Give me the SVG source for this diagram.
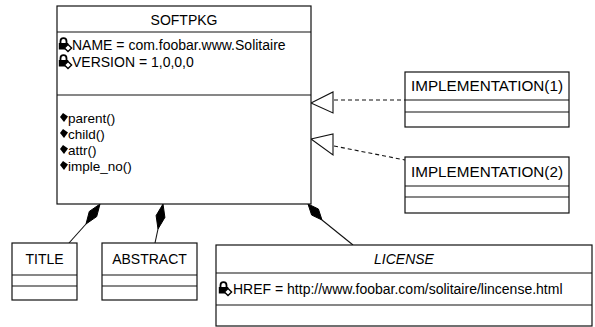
<svg xmlns="http://www.w3.org/2000/svg" width="595" height="327" viewBox="0 0 595 327">
<style>
.box{fill:#fff;stroke:#111;stroke-width:1.2}
.sep{stroke:#111;stroke-width:1.2}
.t{font-family:"Liberation Sans",Arial,sans-serif;font-size:14px;fill:#000}
.m{font-family:"Liberation Sans",Arial,sans-serif;font-size:13.5px;fill:#000}
.c{text-anchor:middle}
.dash{fill:none;stroke:#111;stroke-width:1.1;stroke-dasharray:4 3}
.ln{fill:none;stroke:#111;stroke-width:1.1}
.tri{fill:#fff;stroke:#111;stroke-width:1.1}
.dia{fill:#000;stroke:#000;stroke-width:1}
</style>
<defs>
<g id="lock">
<path d="M2.5,6.5 V4.2 A3,3 0 0 1 8.5,4.2 V6.5" fill="none" stroke="#000" stroke-width="1.8"/>
<rect x="0.8" y="6" width="9.4" height="6.5" fill="#000"/>
<polygon points="10,7.5 13.6,11 10,14.5 6.4,11" fill="#fff" stroke="#000" stroke-width="1.4"/>
</g>
<polygon id="op" points="3,0 8,3.5 4,9 0,4" fill="#000"/>
</defs>
<rect width="595" height="327" fill="#fff"/>

<g id="connectors">
<line class="dash" x1="334" y1="100" x2="405" y2="100"/>
<polygon class="tri" points="311,103 333,92 333,113"/>
<line class="dash" x1="334" y1="146" x2="405" y2="160"/>
<polygon class="tri" points="311,139 333,134 333,155"/>
<polygon class="dia" points="100,204 96.7,216.6 86,224 89.3,211.4"/>
<line class="ln" x1="86" y1="224" x2="69" y2="243"/>
<polygon class="dia" points="163,204 164.9,217.4 158,229 156.1,215.6"/>
<line class="ln" x1="158" y1="229" x2="155" y2="243"/>
<polygon class="dia" points="308,204 311.6,215 322,220 318.4,209"/>
<line class="ln" x1="322" y1="220" x2="353" y2="245"/>
</g>

<g id="softpkg">
<rect class="box" x="57" y="6" width="254" height="198"/>
<line class="sep" x1="57" y1="32" x2="311" y2="32"/>
<line class="sep" x1="57" y1="95" x2="311" y2="95"/>
<text class="t c" x="184" y="25">SOFTPKG</text>
<use href="#lock" x="58" y="37"/>
<text class="t" x="72" y="50">NAME = com.foobar.www.Solitaire</text>
<use href="#lock" x="58" y="54"/>
<text class="t" x="72" y="67">VERSION = 1,0,0,0</text>
<use href="#op" x="60" y="113"/>
<text class="m" x="68" y="123">parent()</text>
<use href="#op" x="60" y="129"/>
<text class="m" x="68" y="139">child()</text>
<use href="#op" x="60" y="145"/>
<text class="m" x="68" y="155">attr()</text>
<use href="#op" x="60" y="161"/>
<text class="m" x="68" y="171">imple_no()</text>
</g>

<g id="implementation1">
<rect class="box" x="405" y="72" width="164" height="55"/>
<line class="sep" x1="405" y1="100" x2="569" y2="100"/>
<line class="sep" x1="405" y1="112" x2="569" y2="112"/>
<text class="t c" x="487" y="91" textLength="152" lengthAdjust="spacingAndGlyphs">IMPLEMENTATION(1)</text>
</g>

<g id="implementation2">
<rect class="box" x="405" y="157" width="164" height="56"/>
<line class="sep" x1="405" y1="186" x2="569" y2="186"/>
<line class="sep" x1="405" y1="197" x2="569" y2="197"/>
<text class="t c" x="487" y="177" textLength="152" lengthAdjust="spacingAndGlyphs">IMPLEMENTATION(2)</text>
</g>

<g id="title">
<rect class="box" x="12" y="243" width="65" height="57"/>
<line class="sep" x1="12" y1="275" x2="77" y2="275"/>
<line class="sep" x1="12" y1="286" x2="77" y2="286"/>
<text class="t c" x="44.5" y="264">TITLE</text>
</g>

<g id="abstract">
<rect class="box" x="102" y="243" width="95" height="57"/>
<line class="sep" x1="102" y1="275" x2="197" y2="275"/>
<line class="sep" x1="102" y1="286" x2="197" y2="286"/>
<text class="t c" x="149.5" y="264">ABSTRACT</text>
</g>

<g id="license">
<rect class="box" x="216" y="245" width="376" height="81"/>
<line class="sep" x1="216" y1="273" x2="592" y2="273"/>
<line class="sep" x1="216" y1="305" x2="592" y2="305"/>
<text class="t c" x="404" y="264" font-style="italic">LICENSE</text>
<use href="#lock" x="218" y="281"/>
<text class="t" x="233" y="294">HREF = http://www.foobar.com/solitaire/lincense.html</text>
</g>
</svg>
